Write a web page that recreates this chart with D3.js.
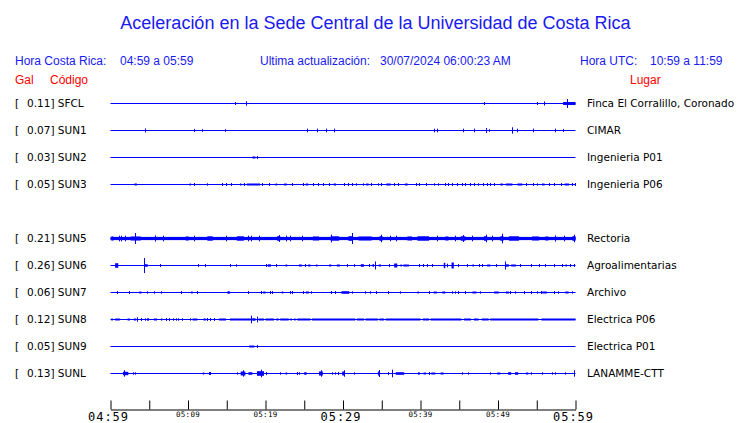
<!DOCTYPE html>
<html><head><meta charset="utf-8">
<script src="https://cdn.jsdelivr.net/npm/d3@7"></script>
<style>body{margin:0;background:#fff}svg{display:block}</style>
</head><body>
<script>
// ---------- DATA ----------
const title = "Aceleración en la Sede Central de la Universidad de Costa Rica";
const horaCR = "04:59 a 05:59";
const horaUTC = "10:59 a 11:59";
const actualizacion = "30/07/2024 06:00:23 AM";
const codes  = ["SFCL","SUN1","SUN2","SUN3",null,"SUN5","SUN6","SUN7","SUN8","SUN9","SUNL"];
const gal    = [0.11,0.07,0.03,0.05,null,0.21,0.26,0.06,0.12,0.05,0.13];
const places = ["Finca El Corralillo, Coronado","CIMAR","Ingenieria P01","Ingenieria P06",null,"Rectoria","Agroalimentarias","Archivo","Electrica P06","Electrica P01","LANAMME-CTT"];
const tickMinutes = [0,5,10,15,20,25,30,35,40,45,50,55,60];
const tickLabels  = {0:"04:59",10:"05:09",20:"05:19",30:"05:29",40:"05:39",50:"05:49",60:"05:59"};
const majorLabels = [0,30,60];
// events: [minute since 04:59, duration (min), relative amplitude]
const evSFCL = [[16.0,0,1],[17.5,0,1.7],[48.2,0,1],[55.0,0,1],[55.9,0,1.5],[58.4,1.6,1.5],[58.9,0,4]];
const evSUN1 = [[4.4,0,1.5],[10.8,0,1],[11.8,0,0.8],[14.8,0,0.8],[25.3,0,1.3],[26.6,0,1.3],[27.8,0,1.3],[28.9,0,1.3],[41.8,0,1.3],[42.1,0,1.3],[45.5,0,1.3],[46.9,0,1.3],[48.5,0,2],[48.8,0,0.8],[51.8,0,2.7],[52.5,0,1.3],[54.5,0,1.3],[57.3,0,1.3],[58.4,0,1]];
const evSUN2 = [[18.3,0.4,1],[18.9,0,1]];
const evSUN3 = [[3.1,0.3,1],[10.2,0.2,1],[10.8,0,1],[12.5,0,0.7],[14.4,0,1],[14.9,0,1],[15.5,0,1],[16.7,0.2,1],[17.2,0,1],[17.6,1.7,1],[19.6,0,1],[20.4,0,1],[21.3,0.2,1],[22.4,0.34,1],[23.4,0,1],[24.9,0,1],[25.2,0.3,1],[26.1,0,1],[26.8,0,1],[27.4,0,1],[28.2,0,1],[28.8,0.3,1],[30.1,0,1],[30.6,0,1],[31.2,0,1],[31.7,0,0.7],[32.6,0,0.7],[33.0,0.3,1],[33.6,0,1],[34.5,0,0.7],[34.9,0,1],[35.6,0.56,1],[36.6,0,1],[37.1,0,1],[38.0,0.34,1],[39.4,0,1],[39.8,0,1],[40.7,0,1],[41.7,0,0.7],[42.2,0,0.7],[43.1,0,1],[43.5,0,1],[44.1,0,1],[44.7,0,1],[45.3,0,1],[45.8,0,1],[46.4,0,1],[46.9,0,1],[47.4,0,0.7],[48.1,0,1],[48.6,0,1],[49.0,0,1],[49.5,0,1],[50.3,0.34,1],[51.0,0.86,1],[52.5,0.65,1],[53.6,0,1],[54.5,0,1],[55.0,0,0.7],[55.7,0.3,1],[56.6,0,1],[57.2,0,1],[58.1,0,1],[58.6,0.56,1],[59.6,0,1],[59.9,0,1]];
const evSUN5 = [[0,60,1.6],[0.1,0.3,2],[1.1,0,2.3],[1.4,0,2.3],[1.9,0,2.3],[2.6,1.3,2],[3.2,0,5],[5.8,0,2.5],[6.8,0,2.3],[9.7,0.4,2],[10.8,0,2.3],[12.5,0.7,2.2],[14.9,0,2.3],[16.3,0.9,2.2],[17.8,0,2.3],[18.1,0,2.3],[19.2,0,2.3],[21.5,0.4,2.3],[21.7,0,3],[22.6,0,2.3],[23.2,0,2.3],[24.7,0,2.3],[26.1,0.8,2],[28.4,1.1,2.2],[28.4,0,3.3],[30.7,0.6,2.3],[31.1,0,5],[32.0,1.7,2],[34.7,0.4,2.3],[34.9,0,3.3],[36.1,0,2.3],[36.8,0,2.3],[38.3,0.6,2],[39.6,1.5,2.2],[42.1,0,2.3],[43.2,0.4,2],[44.5,0,2.3],[45.2,0.6,2.2],[45.5,0,3],[46.7,0,2.3],[48.2,0.4,2.3],[48.4,0,3.3],[49.2,0,2.3],[50.3,0.4,2.3],[50.5,0,4.3],[51.4,1.3,2.2],[54.4,0.9,2],[56.1,0.4,2],[57.4,0,2.5],[58.5,0,2.3],[59.6,0.4,2.3],[59.8,0,3.3]];
const evSUN6 = [[0.6,0.4,2.3],[4.3,0,7],[4.4,0.4,1.3],[6.4,0,1],[11.3,0,1],[12.2,0,1],[15.4,0,1],[16.2,0,0.7],[20.0,0,1],[20.3,0.4,1.2],[21.4,0,1],[22.6,0.2,1],[24.3,0.4,1],[25.1,0,1],[25.5,0.3,1],[26.5,0.2,1],[28.2,0.3,1],[29.2,0.4,1],[30.5,0,1],[31.4,0,0.8],[32.3,0.4,1.3],[33.3,0,1],[33.8,0.2,1.3],[34.1,0,3.5],[34.6,0.3,1],[35.9,0,1],[36.6,0.4,2],[37.4,0.2,1],[37.8,0.7,1],[39.8,0,1],[40.3,0,1],[40.9,0,1],[41.5,0,1],[43.0,0.2,2.7],[43.4,0,1.3],[44.0,0.3,3],[44.9,0,1],[46.0,0,1],[46.7,0.2,1],[47.5,0,1],[47.9,0,1],[48.6,0.4,1],[49.7,0,1],[50.9,0,3.5],[51.0,0.4,1.2],[51.7,0.6,1],[52.9,0,1],[54.2,0,1],[55.3,0,1],[56.1,0,1],[57.2,0,1],[58.3,0,1],[58.7,0.2,1],[59.3,0,1],[59.8,0,1]];
const evSUN7 = [[0.9,0,1],[2.4,0,1],[3.7,0.3,1],[4.7,0,0.7],[5.6,0,0.7],[6.5,0,0.7],[9.1,0,1],[10.4,0.2,1],[11.1,0,1],[15.1,0.3,1.3],[17.8,0,1],[19.4,0,1],[19.7,0.3,1],[20.6,0,1],[20.9,0,1],[22.1,0.2,1],[23.2,0,1],[23.4,0,1],[24.9,0,1],[25.2,0.4,1],[25.9,0,0.7],[28.5,0,1],[29.0,0,1],[29.8,1.0,1.3],[31.1,0,0.7],[32.8,0,0.7],[33.5,0,0.7],[34.2,0,1],[35.8,0,1],[37.4,0,0.7],[39.6,0.2,1],[41.1,0,1],[41.7,0.4,1],[42.8,0.4,1],[44.1,0,0.7],[44.5,0,0.7],[44.9,0,1],[45.8,0,1],[46.7,0.5,1],[47.7,0,0.7],[49.5,0.6,1],[51.0,0.4,1],[51.6,0,1],[52.2,0,0.7],[53.4,0,1],[54.2,0,1],[55.0,0,0.7],[55.5,0,1],[55.7,0.6,1],[57.2,0,1],[57.8,0,0.7],[58.7,0.4,1],[59.6,0,0.7]];
const evSUN8 = [[0.1,0.2,1],[0.6,0.6,1],[2.2,0.3,1],[3.0,0.3,1],[3.4,0,1.7],[3.9,0,1],[4.4,0,0.7],[4.7,0,0.7],[4.9,0,0.7],[5.6,0.4,1],[6.5,0.2,1],[7.1,0,1],[7.5,0,1],[8.0,0,0.7],[8.4,0,0.7],[8.7,0,0.7],[9.2,0,0.7],[10.3,0,0.7],[10.6,0.6,1],[12.0,0.3,1],[12.5,0,1],[12.9,0,1],[13.3,0,1],[14.0,0.9,1],[15.4,0.5,1],[15.9,2.2,1],[18.1,0,3.3],[18.3,0.4,1.3],[18.9,0,2.3],[19.1,0.7,1],[20.0,1.1,1],[21.4,0.3,1],[21.9,1.1,1],[23.2,0.2,1],[23.7,0.2,1],[24.1,1.7,1],[26.0,5.6,1],[31.8,0.9,1],[32.9,1.6,1],[34.7,0.6,1],[35.5,4.5,1],[40.3,0.8,1],[41.3,4.0,1],[45.6,0.9,1],[46.9,0.6,1],[47.9,0.9,1],[49.0,6.2,1],[55.6,4.4,1]];
const evSUN9 = [[17.9,0.65,1],[18.9,0,1]];
const evSUNL = [[1.6,0.7,1.7],[1.7,0,2.7],[2.9,0,0.7],[3.1,0,0.7],[11.9,0.2,1],[12.7,0,1],[12.9,0,1],[16.3,0,0.7],[16.8,0.6,2],[17.1,0,2.7],[17.8,0.5,1.3],[18.9,0.9,2.3],[19.4,0,3.3],[20.0,0,1],[21.9,0,0.7],[22.6,0.2,1],[24.1,0,1],[24.3,0,0.7],[25.0,0.3,1.3],[26.9,0.5,2],[27.1,0,2.7],[28.6,0,0.7],[29.0,0,0.7],[29.3,0,1],[29.9,0.3,2],[30.1,0,2.7],[31.4,0,0.7],[34.5,0.2,2],[34.6,0,3],[35.8,0,1],[36.3,0,3.3],[36.8,1.1,1.3],[39.7,0.2,1.3],[40.4,0.3,1],[41.1,0,1],[41.4,0.5,1],[42.6,0.4,1],[45.3,0,0.7],[46.1,0,0.7],[49.0,0,0.7],[49.9,0.4,1],[51.3,0.4,1.3],[52.2,0.4,1.3],[53.6,0.3,1],[54.3,0,0.7],[55.7,0,0.7],[57.0,0,0.7],[57.3,0,0.7],[58.6,0,0.7],[59.8,0,2.7]];
const events = [evSFCL,evSUN1,evSUN2,evSUN3,null,evSUN5,evSUN6,evSUN7,evSUN8,evSUN9,evSUNL];

// ---------- CHART ----------
const W = 740, H = 423;
const blue = "#0000ff", txtBlue = "#1a1af0", red = "#ff0000";
const svg = d3.select("body").append("svg").attr("width", W).attr("height", H);

const x = d3.scaleLinear().domain([0, 60]).range([110.5, 575.5]);
const y = d3.scaleLinear().domain([0, codes.length - 1]).range([103, 373]);
const amp = d3.scaleLinear().domain([0, 10]).range([0, 10]);

svg.append("text").attr("x", 375.5).attr("y", 29).attr("text-anchor", "middle")
  .attr("font-family", "Liberation Sans, Arial, sans-serif").attr("font-size", 18)
  .attr("fill", txtBlue).text(title);

const hdr = svg.append("g").attr("font-family", "Liberation Sans, Arial, sans-serif")
  .attr("font-size", 12).attr("fill", txtBlue);
hdr.append("text").attr("x", 15).attr("y", 65).text("Hora Costa Rica:");
hdr.append("text").attr("x", 120).attr("y", 65).text(horaCR);
hdr.append("text").attr("x", 260).attr("y", 65).text("Ultima actualización:");
hdr.append("text").attr("x", 380).attr("y", 65).text(actualizacion);
hdr.append("text").attr("x", 580).attr("y", 65).text("Hora UTC:");
hdr.append("text").attr("x", 650).attr("y", 65).text(horaUTC);

const hr = svg.append("g").attr("font-family", "Liberation Sans, Arial, sans-serif")
  .attr("font-size", 12).attr("fill", red);
hr.append("text").attr("x", 15).attr("y", 84).text("Gal");
hr.append("text").attr("x", 50).attr("y", 84).text("Código");
hr.append("text").attr("x", 630).attr("y", 84).text("Lugar");

const rows = codes.map((c, i) => ({c, i, g: gal[i], p: places[i], ev: events[i]})).filter(d => d.c);

const lab = svg.append("g").attr("font-family", "DejaVu Sans, sans-serif").attr("font-size", 10.5).attr("fill", "#000");
rows.forEach(d => {
  const yy = y(d.i);
  lab.append("text").attr("x", 15).attr("y", yy + 4).text("[");
  lab.append("text").attr("x", 27).attr("y", yy + 4).text(d.g.toFixed(2) + "] " + d.c);
  lab.append("text").attr("x", 587).attr("y", yy + 4).text(d.p);
});

const tr = svg.append("g");
rows.forEach(d => {
  const yy = Math.round(y(d.i)) + 0.5;
  const g = tr.append("g");
  g.append("line").attr("x1", x(0)).attr("x2", x(60)).attr("y1", yy).attr("y2", yy)
    .attr("stroke", blue).attr("stroke-width", 1);
  g.selectAll("rect").data(d.ev.filter(e => e[1] > 0)).join("rect")
    .attr("x", e => x(e[0])).attr("width", e => Math.max(1, x(e[0] + e[1]) - x(e[0])))
    .attr("y", e => yy - amp(e[2])).attr("height", e => 2 * amp(e[2]))
    .attr("fill", blue);
  g.selectAll("line.sp").data(d.ev.filter(e => e[1] === 0)).join("line").attr("class", "sp")
    .attr("x1", e => Math.round(x(e[0])) + 0.5).attr("x2", e => Math.round(x(e[0])) + 0.5)
    .attr("y1", e => yy - amp(e[2]) - 0.5).attr("y2", e => yy + amp(e[2]) + 0.5)
    .attr("stroke", blue).attr("stroke-width", 1);
});

// axis
const axY = 409.5;
const axis = d3.axisBottom(x).tickValues(tickMinutes).tickSizeInner(-9).tickSizeOuter(0).tickFormat("");
const ag = svg.append("g").attr("transform", `translate(0,${axY})`).call(axis);
ag.selectAll("path,line").attr("stroke", "#000");
const tl = svg.append("g").attr("font-family", "DejaVu Sans Mono, monospace").attr("fill", "#000").attr("text-anchor", "middle");
Object.keys(tickLabels).forEach(k => {
  const m = +k, major = majorLabels.includes(m);
  tl.append("text").attr("x", x(m) + (major ? -2 : 0)).attr("y", major ? 421 : 417)
    .attr("font-size", major ? 12 : 7.5).attr("letter-spacing", major ? 1 : 0.3)
    .text(tickLabels[k]);
});
</script>
</body></html>
